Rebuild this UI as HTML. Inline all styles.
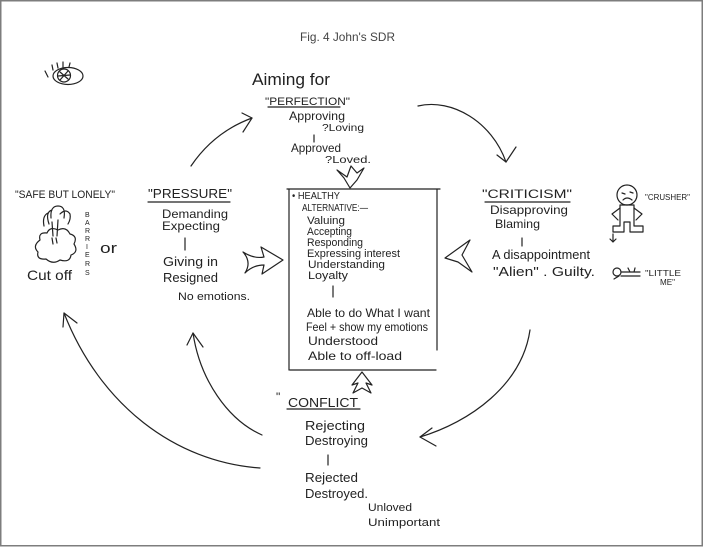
<!DOCTYPE html>
<html>
<head>
<meta charset="utf-8">
<style>
  html,body{margin:0;padding:0;background:#fff;}
  body{width:704px;height:547px;overflow:hidden;}
  svg{display:block;}
  text{font-family:"Liberation Sans", sans-serif;fill:#222;}
</style>
</head>
<body>
<svg width="704" height="547" viewBox="0 0 704 547" xmlns="http://www.w3.org/2000/svg">
  <rect x="0" y="0" width="704" height="547" fill="#fff"/>
  <!-- frame -->
  <rect x="0.75" y="0.75" width="701.5" height="545" fill="none" stroke="#7d7d7d" stroke-width="1.5"/>

  <!-- title -->
  <text x="300" y="41" font-size="12" textLength="95" lengthAdjust="spacingAndGlyphs" style="fill:#444">Fig. 4 John's SDR</text>

  <g fill="none" stroke="#222" stroke-width="1.2" stroke-linecap="round" stroke-linejoin="round">
    <!-- eye -->
    <ellipse cx="68" cy="76" rx="15" ry="8.5"/>
    <circle cx="64" cy="75.5" r="6.5"/>
    <path d="M60,72 L68,79 M68,71 L60,80 M58,76 L70,75"/>
    <path d="M45,71 L48,77 M52,65 L53,70 M57,63 L58,68 M63,62 L63,67 M70,63 L69,67"/>

    <!-- curved connectors -->
    <path d="M191,166 Q214,132 252,118"/>
    <path d="M242,113 L252,118 L243,132"/>

    <path d="M418,106 C452,98 492,122 506,162"/>
    <path d="M497,155 L506,162 L516,147"/>

    <path d="M530,330 C522,385 470,422 420,437"/>
    <path d="M432,428 L420,437 L436,446"/>

    <path d="M262,435 C228,420 200,380 193,333"/>
    <path d="M187,345 L193,333 L203,347"/>

    <path d="M260,468 C175,462 100,405 64,313"/>
    <path d="M63,327 L64,313 L77,323"/>

    <!-- zigzag arrow into box top -->
    <path d="M337,170 L347,177 L351,166 L357,173 L364,168 L357,180 L350,188 L344,178 Z"/>

    <!-- main box -->
    <path d="M287,189 L440,189 M289,189 L289,370 M437,189 L437,350 M290,370 L436,370"/>

    <!-- left big arrow pointing right -->
    <path d="M243,252 Q254,259 264,257 L261,247 L283,260 L262,274 L264,265 Q253,265 245,273 Q252,262 243,252 Z"/>
    <!-- right arrow pointing left -->
    <path d="M445,258 L470,240 L462,255 L472,272 L458,262 Z"/>
    <!-- bottom arrow pointing up -->
    <path d="M362,372 L352,385 L358,383 L353,393 L362,388 L371,393 L366,383 L372,385 Z"/>

    <!-- underlines -->
    <path d="M268,107 L340,107"/>
    <path d="M148,202 L230,202"/>
    <path d="M485,202 L570,202"/>
    <path d="M287,409 L360,409"/>

    <!-- vertical separators -->
    <path d="M314,135 L314,142"/>
    <path d="M333,286 L333,297"/>
    <path d="M185,238 L185,250"/>
    <path d="M522,238 L522,246"/>
    <path d="M328,455 L328,465"/>

    <!-- cloud + sprout -->
    <path d="M40,240 Q38,232 47,233 Q50,226 58,230 Q66,226 70,234 Q78,236 74,244 Q79,252 71,255 Q70,263 60,260 Q53,265 46,259 Q36,260 38,252 Q32,246 40,240 Z"/>
    <path d="M53,236 L52,222 M57,236 L58,220 M49,224 Q45,212 52,210 M51,218 Q50,206 58,206 Q66,206 64,218 M60,214 Q66,208 70,214 Q71,219 68,224 M44,226 Q42,216 48,213"/>
    <path d="M52,238 L53,244 M56,238 L57,243"/>

    <!-- crusher figure -->
    <circle cx="627" cy="195" r="10"/>
    <path d="M622,193 L625,194 M630,192 L633,193 M623,200 Q627,196 632,200"/>
    <path d="M620,205 L634,205 L634,226 L643,226 L643,232 L630,232 L630,222 L624,222 L624,232 L613,232 L613,226 L620,226 Z"/>
    <path d="M620,208 L612,214 L618,220 M634,208 L642,214 L636,220"/>
    <path d="M613,234 L613,242 M610,239 L613,242 L616,239"/>

    <!-- little me -->
    <circle cx="617" cy="272" r="4"/>
    <path d="M621,272 L640,272 M621,276 L640,276 M628,268 L630,272 M635,268 L634,272 M619,276 L614,279"/>
  </g>

  <!-- PERFECTION column -->
  <text x="252" y="85" font-size="17" textLength="78" lengthAdjust="spacingAndGlyphs">Aiming for</text>
  <text x="265" y="105" font-size="11" textLength="85" lengthAdjust="spacingAndGlyphs">"PERFECTION"</text>
  <text x="289" y="120" font-size="12" textLength="56" lengthAdjust="spacingAndGlyphs">Approving</text>
  <text x="322" y="131" font-size="10" textLength="42" lengthAdjust="spacingAndGlyphs">?Loving</text>
  <text x="291" y="152" font-size="12" textLength="50" lengthAdjust="spacingAndGlyphs">Approved</text>
  <text x="325" y="163" font-size="10" textLength="46" lengthAdjust="spacingAndGlyphs">?Loved.</text>

  <!-- box text -->
  <text x="292" y="199" font-size="10" textLength="48" lengthAdjust="spacingAndGlyphs">• HEALTHY</text>
  <text x="302" y="211" font-size="10" textLength="66" lengthAdjust="spacingAndGlyphs">ALTERNATIVE:—</text>
  <text x="307" y="224" font-size="11" textLength="38" lengthAdjust="spacingAndGlyphs">Valuing</text>
  <text x="307" y="235" font-size="11" textLength="45" lengthAdjust="spacingAndGlyphs">Accepting</text>
  <text x="307" y="246" font-size="11" textLength="56" lengthAdjust="spacingAndGlyphs">Responding</text>
  <text x="307" y="257" font-size="11" textLength="93" lengthAdjust="spacingAndGlyphs">Expressing interest</text>
  <text x="308" y="268" font-size="11" textLength="77" lengthAdjust="spacingAndGlyphs">Understanding</text>
  <text x="308" y="279" font-size="11" textLength="40" lengthAdjust="spacingAndGlyphs">Loyalty</text>
  <text x="307" y="317" font-size="12" textLength="123" lengthAdjust="spacingAndGlyphs">Able to do What I want</text>
  <text x="306" y="331" font-size="12" textLength="122" lengthAdjust="spacingAndGlyphs">Feel + show my emotions</text>
  <text x="308" y="345" font-size="12" textLength="70" lengthAdjust="spacingAndGlyphs">Understood</text>
  <text x="308" y="360" font-size="12" textLength="94" lengthAdjust="spacingAndGlyphs">Able to off-load</text>

  <!-- SAFE BUT LONELY -->
  <text x="15" y="198" font-size="11" textLength="100" lengthAdjust="spacingAndGlyphs">"SAFE BUT LONELY"</text>
  <g font-size="7">
    <text x="85" y="217">B</text>
    <text x="85" y="225">A</text>
    <text x="85" y="233">R</text>
    <text x="85" y="241">R</text>
    <text x="86" y="249">I</text>
    <text x="85" y="257">E</text>
    <text x="85" y="266">R</text>
    <text x="85" y="275">S</text>
  </g>
  <text x="100" y="253" font-size="15" textLength="17" lengthAdjust="spacingAndGlyphs">or</text>
  <text x="27" y="280" font-size="14" textLength="45" lengthAdjust="spacingAndGlyphs">Cut off</text>

  <!-- PRESSURE -->
  <text x="148" y="198" font-size="13" textLength="84" lengthAdjust="spacingAndGlyphs">"PRESSURE"</text>
  <text x="162" y="218" font-size="12" textLength="66" lengthAdjust="spacingAndGlyphs">Demanding</text>
  <text x="162" y="230" font-size="12" textLength="58" lengthAdjust="spacingAndGlyphs">Expecting</text>
  <text x="163" y="266" font-size="13" textLength="55" lengthAdjust="spacingAndGlyphs">Giving in</text>
  <text x="163" y="282" font-size="13" textLength="55" lengthAdjust="spacingAndGlyphs">Resigned</text>
  <text x="178" y="300" font-size="11" textLength="72" lengthAdjust="spacingAndGlyphs">No emotions.</text>

  <!-- CRITICISM -->
  <text x="482" y="198" font-size="12" textLength="90" lengthAdjust="spacingAndGlyphs">"CRITICISM"</text>
  <text x="490" y="214" font-size="12" textLength="78" lengthAdjust="spacingAndGlyphs">Disapproving</text>
  <text x="495" y="228" font-size="12" textLength="45" lengthAdjust="spacingAndGlyphs">Blaming</text>
  <text x="492" y="259" font-size="13" textLength="98" lengthAdjust="spacingAndGlyphs">A disappointment</text>
  <text x="493" y="276" font-size="13" textLength="102" lengthAdjust="spacingAndGlyphs">"Alien" . Guilty.</text>
  <text x="645" y="200" font-size="8" textLength="45" lengthAdjust="spacingAndGlyphs">"CRUSHER"</text>
  <text x="645" y="276" font-size="8" textLength="36" lengthAdjust="spacingAndGlyphs">"LITTLE</text>
  <text x="660" y="285" font-size="8" textLength="15" lengthAdjust="spacingAndGlyphs">ME"</text>

  <!-- CONFLICT -->
  <text x="276" y="401" font-size="12">"</text>
  <text x="288" y="407" font-size="13" textLength="70" lengthAdjust="spacingAndGlyphs">CONFLICT</text>
  <text x="305" y="430" font-size="13" textLength="60" lengthAdjust="spacingAndGlyphs">Rejecting</text>
  <text x="305" y="445" font-size="13" textLength="63" lengthAdjust="spacingAndGlyphs">Destroying</text>
  <text x="305" y="482" font-size="13" textLength="53" lengthAdjust="spacingAndGlyphs">Rejected</text>
  <text x="305" y="498" font-size="13" textLength="63" lengthAdjust="spacingAndGlyphs">Destroyed.</text>
  <text x="368" y="511" font-size="11" textLength="44" lengthAdjust="spacingAndGlyphs">Unloved</text>
  <text x="368" y="526" font-size="11" textLength="72" lengthAdjust="spacingAndGlyphs">Unimportant</text>
</svg>
</body>
</html>
